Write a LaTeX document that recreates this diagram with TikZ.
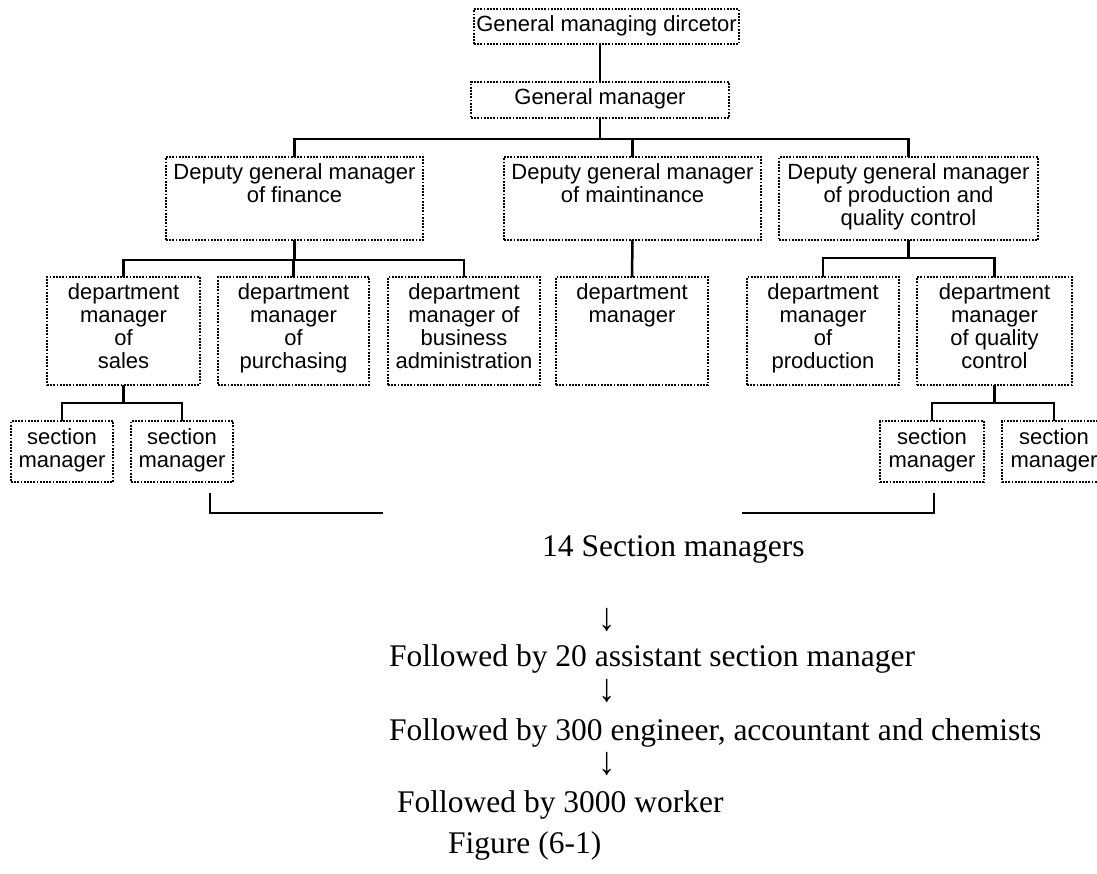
\documentclass[tikz,border=0pt]{standalone}
\usepackage{fontspec}
\usepackage{graphicx}
\setmainfont{Liberation Serif}
\newfontfamily\arialf{Liberation Sans}
\newcommand\obox[6]{%
  \node[obox, minimum width={(#4-#2)*1pt}, minimum height={(#5-#3)*1pt}] (#1)
    at ({(#2+#4)/2},{(#3+#5)/2})
    {\parbox[c][\dimexpr#5pt-#3pt\relax][t]{\dimexpr#4pt-#2pt\relax}{\centering\rule{0pt}{23pt}#6\par}};}
\newcommand\darrow{\scalebox{1.1}[1.25]{↓}}
\begin{document}
\begin{tikzpicture}[x=1pt,y=-1pt,
  obox/.style={draw, line width=2pt, dash pattern=on 1.8pt off 1.4pt, inner sep=0pt, outer sep=0pt,
    font=\arialf\fontsize{22}{23}\selectfont},
  conn/.style={line width=2.5pt},
  serif/.style={inner sep=0pt, font=\fontsize{31.5}{36}\selectfont}]
\useasboundingbox (0,0) rectangle (1097,874);
\clip (0,0) rectangle (1097,874);

\obox{gmd}{474}{9}{739}{44}{General managing dircetor}
\obox{gm}{471}{82}{729}{118}{General manager}
\obox{fin}{166}{157}{423}{240}{Deputy general manager\\of finance}
\obox{mt}{504}{157}{761}{240}{Deputy general manager\\of maintinance}
\obox{pq}{779}{157}{1038}{240}{Deputy general manager\\of production and\\quality control}
\obox{sal}{47}{277}{200}{385}{department\\manager\\of\\sales}
\obox{pur}{218}{277}{369}{385}{department\\manager\\of\\purchasing}
\obox{ba}{388}{277}{540}{385}{department\\manager of\\business\\administration}
\obox{md}{556}{277}{708}{385}{department\\manager}
\obox{pro}{747}{277}{899}{385}{department\\manager\\of\\production}
\obox{qc}{917}{277}{1072}{385}{department\\manager\\of quality\\control}
\obox{s1}{11}{421}{113}{482}{section\\manager}
\obox{s2}{131}{421}{233}{482}{section\\manager}
\obox{s3}{880}{421}{984}{482}{section\\manager}
\obox{s4}{1002}{421}{1106}{482}{section\\manager}

\coordinate (b1) at (602,139);
\coordinate (b2) at (0,260);
\coordinate (b3) at (0,258);
\coordinate (b4) at (0,403);
\draw[conn] (gm.north) -- (gm.north |- gmd.south);
\draw[conn] (gm.south) -- (gm.south |- b1);
\draw[conn] (fin.north) -- (fin.north |- b1) -- (pq.north |- b1) -- (pq.north);
\draw[conn] (mt.north) -- (mt.north |- b1);
\draw[conn] (fin.south) -- (fin.south |- b2);
\draw[conn] (sal.north) -- (sal.north |- b2) -- (ba.north |- b2) -- (ba.north);
\draw[conn] (pur.north) -- (pur.north |- b2);
\draw[conn] (mt.south) -- (md.north);
\draw[conn] (pq.south) -- (pq.south |- b3);
\draw[conn] (pro.north) -- (pro.north |- b3) -- (qc.north |- b3) -- (qc.north);
\draw[conn] (sal.south) -- (sal.south |- b4);
\draw[conn] (s1.north) -- (s1.north |- b4) -- (s2.north |- b4) -- (s2.north);
\draw[conn] (qc.south) -- (qc.south |- b4);
\draw[conn] (s3.north) -- (s3.north |- b4) -- (s4.north |- b4) -- (s4.north);

\coordinate (lb1) at (210,493);
\coordinate (lb2) at (383,513);
\coordinate (rb1) at (934,493);
\coordinate (rb2) at (742,513);
\draw[conn] (lb1) |- (lb2);
\draw[conn] (rb1) |- (rb2);

\node[serif, anchor=base west] (t1) at (542,556) {14 Section managers};
\node[serif, anchor=center] (a1) at (607,620) {\darrow};
\node[serif, anchor=base west] (t2) at (389,666) {Followed by 20 assistant section manager};
\node[serif, anchor=center] (a2) at (607,691) {\darrow};
\node[serif, anchor=base west] (t3) at (389,740) {Followed by 300 engineer, accountant and chemists};
\node[serif, anchor=center] (a3) at (607,764) {\darrow};
\node[serif, anchor=base west] (t4) at (397,812) {Followed by 3000 worker};
\node[serif, anchor=base west] (t5) at (448,853) {Figure (6-1)};
\end{tikzpicture}
\end{document}
